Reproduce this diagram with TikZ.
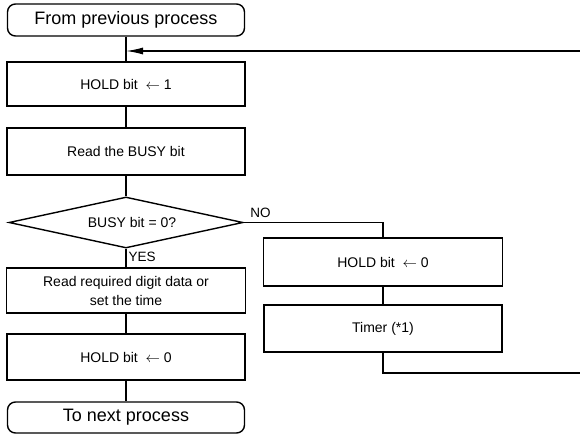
\documentclass[tikz,border=0pt]{standalone}
\usepackage{fontspec}
\setmainfont{Liberation Sans}
\usetikzlibrary{shapes.geometric,arrows.meta}
\begin{document}
\begin{tikzpicture}[x=1pt,y=-1pt,
  line width=1.4pt,
  boxtxt/.style={font=\fontsize{14}{19}\selectfont},
  procbox/.style={draw,rectangle,inner sep=0pt,align=center,boxtxt},
  termbox/.style={draw,rectangle,rounded corners=8pt,inner sep=0pt,font=\fontsize{18}{20}\selectfont},
  decbox/.style={draw,diamond,aspect=4.5,inner sep=0pt,boxtxt},
  lbl/.style={font=\fontsize{13.5}{15}\selectfont,inner sep=0pt},
  flow/.style={line width=1.4pt}]
\useasboundingbox (0,0) rectangle (580,436);
\node[termbox,minimum width=237pt,minimum height=32pt] (start) at (126,20) {From previous process};
\node[procbox,minimum width=238pt,minimum height=44pt] (b1) at (126,84) {HOLD bit \ $\leftarrow$\ 1};
\node[procbox,minimum width=238pt,minimum height=47pt] (b2) at (126,151.5) {Read the BUSY bit};
\node[decbox,minimum width=234pt,minimum height=51pt] (dia) at (126,222.5) {\hspace*{12pt}BUSY bit = 0?};
\node[procbox,minimum width=239pt,minimum height=45pt] (b4) at (126,290.5) {Read required digit data or\\set the time};
\node[procbox,minimum width=238pt,minimum height=46pt] (b5) at (126,357) {HOLD bit \ $\leftarrow$\ 0};
\node[termbox,minimum width=237pt,minimum height=31pt] (end) at (126,417.5) {To next process};
\node[procbox,minimum width=239pt,minimum height=48pt] (b3) at (383,262) {HOLD bit \ $\leftarrow$\ 0};
\node[procbox,minimum width=238pt,minimum height=47pt] (tm) at (383,328.5) {Timer (*1)};
\coordinate (r1) at (580,51);
\coordinate (r2) at (580,373);
\draw[flow] (start.south) -- (b1.north);
\draw[flow,-{Latex[length=17pt,width=7pt]}] (r1) -- (r1 -| b1.north);
\draw[flow] (b1.south) -- (b2.north);
\draw[flow] (b2.south) -- (dia.north);
\draw[flow] (dia.south) -- node[lbl,right=2pt,pos=0.45] {YES} (b4.north);
\draw[flow] (b4.south) -- (b5.north);
\draw[flow] (b5.south) -- (end.north);
\draw[flow] (dia.east) -| (b3.north);
\node[lbl,anchor=south west] (no) at ([shift={(6pt,4pt)}]dia.east) {NO};
\draw[flow] (b3.south) -- (tm.north);
\draw[flow] (tm.south) |- (r2);
\end{tikzpicture}
\end{document}
